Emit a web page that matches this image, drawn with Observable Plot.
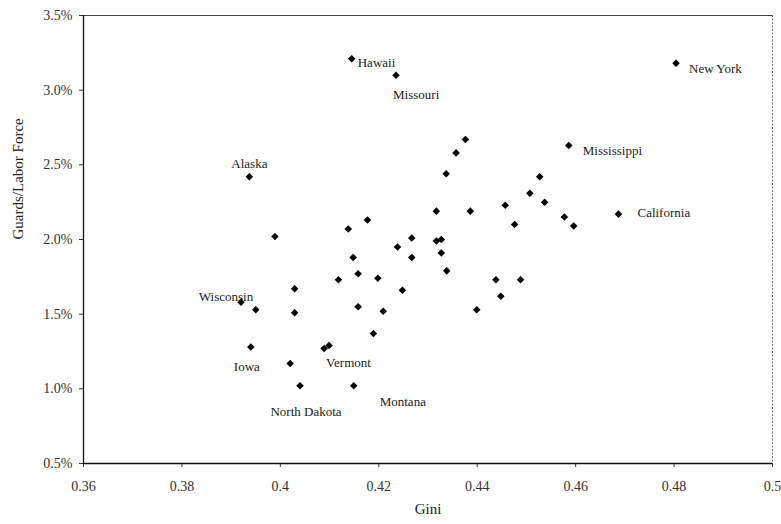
<!DOCTYPE html>
<html>
<head>
<meta charset="utf-8">
<script src="https://cdn.jsdelivr.net/npm/d3@7"></script>
<script src="https://cdn.jsdelivr.net/npm/@observablehq/plot@0.6"></script>
<style>
  html, body { margin: 0; padding: 0; background: #fff; }
  #chart { width: 781px; height: 524px; }
</style>
</head>
<body>
<div id="chart"></div>
<script>
// Gini coefficient per state
const gini = [0.4145,0.4235,0.4804,0.3937,0.4376,0.4357,0.4337,0.4586,0.4527,0.4507,
              0.4537,0.4457,0.4386,0.4317,0.4687,0.4577,0.4596,0.4476,0.3989,0.4138,
              0.4177,0.4267,0.4317,0.4327,0.4238,0.4327,0.4267,0.4148,0.4158,0.4118,
              0.4198,0.4338,0.4248,0.4438,0.4488,0.4448,0.4399,0.4029,0.3920,0.3950,
              0.4029,0.4158,0.4209,0.4189,0.4089,0.4099,0.3940,0.4020,0.4040,0.4149];
// Guards as % of labor force
const guardsPct = [3.21,3.10,3.18,2.42,2.67,2.58,2.44,2.63,2.42,2.31,
                   2.25,2.23,2.19,2.19,2.17,2.15,2.09,2.10,2.02,2.07,
                   2.13,2.01,1.99,2.00,1.95,1.91,1.88,1.88,1.77,1.73,
                   1.74,1.79,1.66,1.73,1.73,1.62,1.53,1.67,1.58,1.53,
                   1.51,1.55,1.52,1.37,1.27,1.29,1.28,1.17,1.02,1.02];
// Names of the labelled states (empty = unlabelled)
const stateNames = ["Hawaii","Missouri","New York","Alaska","","","","Mississippi","","",
                    "","","","","California","","","","","",
                    "","","","","","","","","","",
                    "","","","","","","","","Wisconsin","",
                    "","","","","","Vermont","Iowa","","North Dakota","Montana"];
const xTicks = [0.36,0.38,0.40,0.42,0.44,0.46,0.48,0.50];
const yTicks = [0.005,0.010,0.015,0.020,0.025,0.030,0.035];
const xTitle = "Gini";
const yTitle = "Guards/Labor Force";

const rows = gini.map((g, i) => ({gini: g, share: guardsPct[i] / 100, name: stateNames[i]}));

// label placement (style, not data)
const labelPlace = {
  "Hawaii": ["start", 6, 4],
  "Missouri": ["start", -3, 20],
  "New York": ["start", 13, 6],
  "Mississippi": ["start", 14, 5],
  "California": ["start", 19, -1],
  "Alaska": ["middle", 0, -13],
  "Wisconsin": ["middle", -15, -5],
  "Iowa": ["middle", -4, 20],
  "Vermont": ["start", -3, 17],
  "North Dakota": ["middle", 6, 26],
  "Montana": ["start", 26, 16]
};

const serif = "'Liberation Serif', 'DejaVu Serif', serif";

const labelMarks = rows.filter(d => d.name).map(d => {
  const [anchor, dx, dy] = labelPlace[d.name];
  return Plot.text([d], {x: "gini", y: "share", text: "name", textAnchor: anchor, dx, dy,
    fontSize: 13, fill: "#222", fontFamily: serif});
});

const chart = Plot.plot({
  width: 781,
  height: 524,
  marginLeft: 83,
  marginRight: 9,
  marginTop: 15,
  marginBottom: 61,
  style: {fontFamily: serif, fontSize: "14px", color: "#333", background: "#fff"},
  x: {domain: [0.36, 0.5], ticks: xTicks, tickFormat: d => d3.format("~g")(+d.toFixed(2)),
      tickSize: 4, tickPadding: 14, label: null},
  y: {domain: [0.005, 0.035], ticks: yTicks, tickFormat: d3.format(".1%"),
      tickSize: 4, tickPadding: 7, label: null},
  marks: [
    Plot.ruleY([0.035], {stroke: "#444", strokeWidth: 1}),
    Plot.ruleX([0.5], {stroke: "#777", strokeWidth: 1, strokeDasharray: "2,1.5"}),
    Plot.ruleX([0.36], {stroke: "#111", strokeWidth: 1.3}),
    Plot.ruleY([0.005], {stroke: "#111", strokeWidth: 1.3}),
    Plot.dot(rows, {x: "gini", y: "share", symbol: "diamond2", r: 3.4, fill: "#000", stroke: "none"}),
    ...labelMarks,
    Plot.text([xTitle], {frameAnchor: "bottom", dy: 50, fontSize: 15, fill: "#222", fontFamily: serif}),
    Plot.text([yTitle], {frameAnchor: "left", dx: -65, rotate: -90, fontSize: 15, fill: "#222", fontFamily: serif})
  ]
});
document.getElementById("chart").appendChild(chart);
</script>
</body>
</html>
